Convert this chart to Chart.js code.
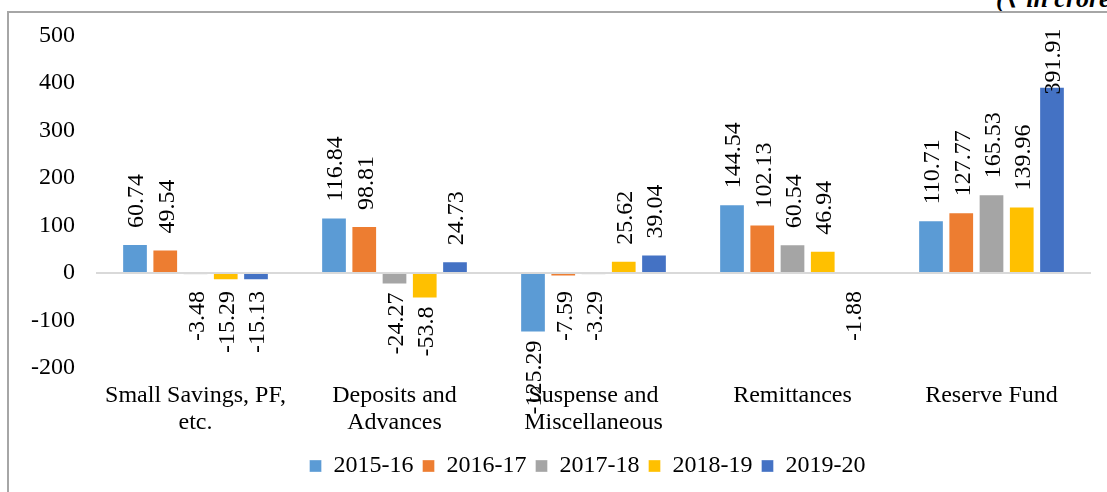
<!DOCTYPE html>
<html lang="en">
<head>
    <meta charset="UTF-8">
    <title>Chart</title>
    <script src="https://cdn.jsdelivr.net/npm/chart.js"></script>
    <style>
        html, body { margin: 0; padding: 0; background: #fff; overflow: hidden; }
        .wrap { position: relative; width: 1107px; height: 492px; overflow: hidden; }
        .frame { position: absolute; left: 7px; top: 11px; width: 1200px; height: 600px;
                 border-left: 2px solid #a6a6a6; border-top: 2px solid #a6a6a6; pointer-events: none; }
        .unit { position: absolute; left: 996px; top: -14px; font: italic bold 26px "Liberation Serif", serif;
                line-height: 1; white-space: nowrap; color: #000; }
        canvas { position: absolute; left: 0; top: 0; }
    </style>
</head>
<body>
    <div class="wrap">
        <div class="unit">(₹ in crore)</div>
        <div class="frame"></div>
        <canvas id="grafico" width="1107" height="492"></canvas>
    </div>

    <script>
        // dados
        const categorias = [
            ['Small Savings, PF,', 'etc.'],
            ['Deposits and', 'Advances'],
            ['Suspense and', 'Miscellaneous'],
            'Remittances',
            'Reserve Fund'
        ];
        const anos = ['2015-16', '2016-17', '2017-18', '2018-19', '2019-20'];
        const v2015 = [60.74, 116.84, -125.29, 144.54, 110.71];
        const v2016 = [49.54, 98.81, -7.59, 102.13, 127.77];
        const v2017 = [-3.48, -24.27, -3.29, 60.54, 165.53];
        const v2018 = [-15.29, -53.8, 25.62, 46.94, 139.96];
        const v2019 = [-15.13, 24.73, 39.04, -1.88, 391.91];
        const cores = ['#5B9BD5', '#ED7D31', '#A5A5A5', '#FFC000', '#4472C4'];
        const yTicks = [-200, -100, 0, 100, 200, 300, 400, 500];

        const serie = [v2015, v2016, v2017, v2018, v2019];
        const FONTE = '"Liberation Serif", "Times New Roman", serif';

        // rótulos verticais nas barras
        const rotulos = {
            id: 'rotulos',
            afterDatasetsDraw(chart) {
                const ctx = chart.ctx;
                const topo = chart.chartArea.top - 7;
                ctx.save();
                ctx.font = '24px ' + FONTE;
                ctx.fillStyle = '#000';
                ctx.textBaseline = 'middle';
                chart.data.datasets.forEach((ds, i) => {
                    const meta = chart.getDatasetMeta(i);
                    meta.data.forEach((bar, j) => {
                        const v = ds.data[j];
                        const txt = String(v);
                        const w = ctx.measureText(txt).width;
                        ctx.save();
                        if (v >= 0) {
                            let y = bar.y - 16;
                            if (y - w < topo) y = topo + w;
                            ctx.translate(bar.x + 2, y);
                            ctx.rotate(-Math.PI / 2);
                            ctx.textAlign = 'left';
                        } else {
                            ctx.translate(bar.x + 2, Math.max(bar.y + 8, chart.scales.y.getPixelForValue(0) + 18));
                            ctx.rotate(-Math.PI / 2);
                            ctx.textAlign = 'right';
                        }
                        ctx.fillText(txt, 0, 0);
                        ctx.restore();
                    });
                });
                ctx.restore();
            }
        };

        // legenda um pouco deslocada para a direita, como no original
        const moverLegenda = {
            id: 'moverLegenda',
            afterLayout(chart) {
                chart.legend.left += 42;
                chart.legend.right += 42;
            }
        };

        const ctx = document.getElementById('grafico').getContext('2d');
        new Chart(ctx, {
            type: 'bar',
            data: {
                labels: categorias,
                datasets: anos.map((a, i) => ({
                    label: a,
                    data: serie[i],
                    backgroundColor: cores[i],
                    borderColor: 'rgba(255,255,255,0.35)',
                    borderWidth: 1,
                    categoryPercentage: 0.76,
                    barPercentage: 0.85
                }))
            },
            options: {
                responsive: false,
                animation: false,
                layout: { padding: { top: 20, right: 16, bottom: 4, left: 0 } },
                plugins: {
                    legend: {
                        position: 'bottom',
                        labels: {
                            color: '#000',
                            boxWidth: 12,
                            boxHeight: 12,
                            padding: 9,
                            font: { family: FONTE, size: 24 }
                        }
                    },
                    tooltip: { enabled: false }
                },
                scales: {
                    x: {
                        grid: { display: false, drawTicks: false },
                        border: { display: false },
                        ticks: {
                            color: '#000',
                            padding: 14,
                            maxRotation: 0,
                            autoSkip: false,
                            font: { family: FONTE, size: 24, lineHeight: 1.12 }
                        },
                        afterFit(scale) { scale.height = 77; }
                    },
                    y: {
                        min: -200,
                        max: 500,
                        afterBuildTicks(scale) { scale.ticks = yTicks.map(v => ({ value: v })); },
                        grid: {
                            drawTicks: false,
                            lineWidth: 2,
                            color: c => (c.tick && c.tick.value === 0) ? '#d9d9d9' : 'rgba(0,0,0,0)'
                        },
                        border: { display: false },
                        ticks: {
                            color: '#000',
                            padding: 21,
                            font: { family: FONTE, size: 24 }
                        },
                        afterFit(scale) { scale.width = 96; }
                    }
                }
            },
            plugins: [rotulos, moverLegenda]
        });
    </script>
</body>
</html>
